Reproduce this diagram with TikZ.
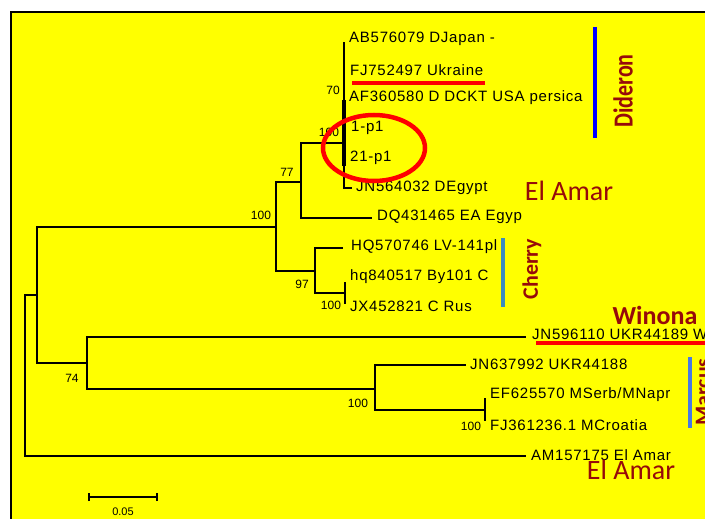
\documentclass[tikz,border=0pt]{standalone}
\usepackage{fontspec}
\setmainfont{Liberation Sans}
\newfontfamily\leaffont[LetterSpace=5]{Liberation Sans}
\newfontfamily\grpfont{Carlito}
\definecolor{ylw}{RGB}{255,255,0}
\definecolor{dred}{RGB}{150,10,10}
\definecolor{dblue}{RGB}{0,0,255}
\definecolor{cblue}{RGB}{60,140,190}
\definecolor{mblue}{RGB}{70,120,230}
\tikzset{
  br/.style={line width=1.5pt, line join=miter},
  leaf/.style={anchor=west, inner sep=0pt, font=\leaffont\fontsize{15}{15}\selectfont},
  boot/.style={inner sep=0pt, font=\fontsize{12}{12}\selectfont},
  grp/.style={inner sep=0pt, text=dred, font=\grpfont\bfseries\fontsize{22}{22}\selectfont},
  grpreg/.style={inner sep=0pt, text=dred, font=\grpfont\fontsize{28}{28}\selectfont},
  redline/.style={draw=red, line width=4pt},
  bar/.style={line width=4.5pt}
}
\begin{document}
\begin{tikzpicture}[x=1pt,y=-1pt]
\useasboundingbox (0,0) rectangle (705,519);
\clip (0,0) rectangle (705,519);
\fill[white] (0,0) rectangle (705,519);
\fill[ylw] (11,12) rectangle (710,525);
\draw[line width=1.5pt] (710,12) -- (11,12) -- (11,525);

% internal nodes (junction points)
\coordinate (root) at (25,375);
\coordinate (nA) at (37,295);
\coordinate (nB) at (87,363);
\coordinate (nM) at (375,389);
\coordinate (nM2) at (485,410);
\coordinate (nC) at (276,227);
\coordinate (nD) at (301,182);
\coordinate (nE) at (344,143);
\coordinate (nCh) at (315,271);
\coordinate (nCh2) at (345,293);

% leaf branch ends
\coordinate (eAM) at (526,456);
\coordinate (eW) at (526,337);
\coordinate (eJN6) at (466,365);
\coordinate (eEF) at (485,398);
\coordinate (eFJ3) at (485,421);
\coordinate (eDQ) at (372,218);
\coordinate (eJN5) at (352,188);
\coordinate (eTop) at (344,42);
\coordinate (eHQ) at (343,248);
\coordinate (eHq) at (345,282);
\coordinate (eJX) at (345,304);
\coordinate (tk1) at (344,100);
\coordinate (tk2) at (344,166);

% branches
\draw[br] (root) |- (nA);
\draw[br] (root) |- (eAM);
\draw[br] (nA) |- (nC);
\draw[br] (nA) |- (nB);
\draw[br] (nB) |- (eW);
\draw[br] (nB) |- (nM);
\draw[br] (nM) |- (eJN6);
\draw[br] (nM) |- (nM2);
\draw[br] (nM2) -- (eEF);
\draw[br] (nM2) -- (eFJ3);
\draw[br] (nC) |- (nD);
\draw[br] (nC) |- (nCh);
\draw[br] (nD) |- (nE);
\draw[br] (nD) |- (eDQ);
\draw[br] (nE) -- (eTop);
\draw[br] (nE) |- (eJN5);
\draw[line width=3.2pt] (tk1) -- (tk2);
\draw[br] (nCh) |- (eHQ);
\draw[br] (nCh) |- (nCh2);
\draw[br] (nCh2) -- (eHq);
\draw[br] (nCh2) -- (eJX);

% leaf labels
\node[leaf] (l1) at (349,39) {AB576079 DJapan -};
\node[leaf] (l2) at (350,70) {FJ752497 Ukraine};
\node[leaf] (l3) at (349,98) {AF360580 D DCKT USA persica};
\node[leaf] (l4) at (351,128) {1-p1};
\node[leaf] (l5) at (350,158) {21-p1};
\node[leaf] (l6) at (356,188) {JN564032 DEgypt};
\node[leaf] (l7) at (377,217) {DQ431465 EA Egyp};
\node[leaf] (l8) at (351,247) {HQ570746 LV-141pl};
\node[leaf] (l9) at (350,277) {hq840517 By101 C};
\node[leaf] (l10) at (350,306) {JX452821 C Rus};
\node[leaf] (l11) at (532,334) {JN596110 UKR44189 W};
\node[leaf] (l12) at (470,364) {JN637992 UKR44188};
\node[leaf] (l13) at (490,395) {EF625570 MSerb/MNapr};
\node[leaf] (l14) at (490,425) {FJ361236.1 MCroatia};
\node[leaf] (l15) at (531,455) {AM157175 El Amar};

% bootstrap values
\node[boot] (b1) at (333,90) {70};
\node[boot] (b2) at (329,132) {100};
\node[boot] (b3) at (287,172) {77};
\node[boot] (b4) at (261,215) {100};
\node[boot] (b5) at (302,284) {97};
\node[boot] (b6) at (331,305) {100};
\node[boot] (b7) at (72,378) {74};
\node[boot] (b8) at (358,403) {100};
\node[boot] (b9) at (471,426) {100};

% group bars and lines
\coordinate (dbA) at (595,27);
\coordinate (dbB) at (595,138);
\draw[bar, draw=dblue] (dbA) -- (dbB);
\coordinate (cbA) at (503,238);
\coordinate (cbB) at (503,307);
\draw[bar, draw=cblue] (cbA) -- (cbB);
\coordinate (mbA) at (690,357);
\coordinate (mbB) at (690,428);
\draw[bar, draw=mblue] (mbA) -- (mbB);
\coordinate (ru1) at (352,83);
\coordinate (ru2) at (485,83);
\draw[redline] (ru1) -- (ru2);
\coordinate (wu1) at (536,343);
\coordinate (wu2) at (710,343);
\draw[redline] (wu1) -- (wu2);

% group labels
\node[grp, rotate=90] (gD) at (623,91) {\scalebox{1}[1.25]{Dideron}};
\node[grp, rotate=90] (gC) at (532,269) {Cherry};
\node[grp, rotate=90] (gM) at (703,392) {Marcus};
\node[grpreg] (gE1) at (569,191) {El Amar};
\node[grp, font=\grpfont\bfseries\fontsize{26}{26}\selectfont] (gW) at (655,315) {Winona};
\node[grpreg] (gE2) at (631,470) {El Amar};

% highlight ellipse
\coordinate (ec) at (374,148);
\draw[red, line width=4.5pt] (ec) ellipse [x radius=51pt, y radius=33pt];

% scale bar
\coordinate (s1) at (89,497);
\coordinate (s2) at (157,497);
\draw[br] (s1) -- (s2);
\draw[br] ([yshift=-4pt]s1) -- ([yshift=4pt]s1);
\draw[br] ([yshift=-4pt]s2) -- ([yshift=4pt]s2);
\node[inner sep=0pt, font=\fontsize{11}{11}\selectfont] (sl) at (123,512) {0.05};
\end{tikzpicture}
\end{document}
